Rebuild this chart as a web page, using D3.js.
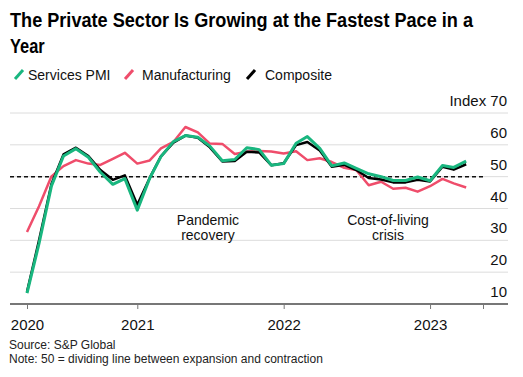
<!DOCTYPE html>
<html><head><meta charset="utf-8">
<script src="https://cdn.jsdelivr.net/npm/d3@7"></script>
<style>
body{margin:0;background:#fff;}
text{font-family:"Liberation Sans",Arial,sans-serif;}
</style></head>
<body><svg id="chart" width="523" height="377"></svg>
<script>
// ---- data (UK PMI, Apr 2020 – Apr 2023) ----
const startMonth = [2020, 3]; // April 2020 (month index 0-based)
const services = [13.4,29.0,47.1,56.5,58.8,56.1,51.4,47.6,49.4,
  39.5,49.5,56.3,61.0,62.9,62.4,59.6,55.0,55.4,59.1,58.5,53.6,
  54.1,60.5,62.6,58.9,53.4,54.3,52.6,50.9,50.0,48.8,48.8,49.9,
  48.7,53.5,52.9,54.9];
const manufacturing = [32.6,40.7,50.1,53.3,55.2,54.1,53.7,55.6,57.5,
  54.1,55.1,58.9,60.9,65.6,63.9,60.4,60.3,57.1,57.8,58.1,57.9,
  57.3,58.0,55.2,55.8,54.6,52.8,52.1,47.3,48.4,46.2,46.5,45.3,
  47.0,49.3,47.9,46.6];
const composite = [13.8,30.0,47.7,57.0,59.1,56.5,52.1,49.0,50.4,
  41.2,49.6,56.4,60.7,62.9,62.2,59.2,54.8,54.9,57.8,57.6,53.6,
  54.2,59.9,60.9,58.2,53.1,53.7,52.1,49.6,49.1,48.2,48.2,49.0,
  48.5,53.1,52.2,53.9];
const yTicks = [10,20,30,40,50,60,70];
const xTickDates = [[2020,3,1],[2021,0,1],[2022,0,1],[2023,0,1],[2023,4,13]];
const xTickLabels = ["2020","2021","2022","2023",""];
const seriesNames = ["Services PMI","Manufacturing","Composite"];

// ---- layout ----
const svg = d3.select("#chart");
const plotL = 10, plotR = 508, plotTop = 113, plotBottom = 304;
const colors = {"Services PMI":"#19b67f","Manufacturing":"#ef4d6b","Composite":"#000000"};

const dates = services.map((_, i) => new Date(startMonth[0], startMonth[1] + i, 1));
const x = d3.scaleTime()
  .domain([new Date(2020,3,1), new Date(2023,4,13)])
  .range([27, 483]);
const y = d3.scaleLinear().domain([10,70]).range([plotBottom, plotTop]);

// title
const t1 = svg.append("text").attr("x",10).attr("y",27)
  .style("font-weight","bold").style("font-size","20px").attr("fill","#000")
  .text("The Private Sector Is Growing at the Fastest Pace in a");
if (t1.node().getComputedTextLength() > 463) t1.attr("textLength",463).attr("lengthAdjust","spacingAndGlyphs");
const t2 = svg.append("text").attr("x",10).attr("y",53)
  .style("font-weight","bold").style("font-size","20px").attr("fill","#000").text("Year");
const tl2 = t2.node().getComputedTextLength();
t2.attr("textLength", tl2*0.82).attr("lengthAdjust","spacingAndGlyphs");

// legend
const legendX = [[15,28],[125,142],[247,265]];
seriesNames.forEach((n, i) => {
  const [sx, tx] = legendX[i];
  svg.append("line").attr("x1",sx).attr("y1",79).attr("x2",sx+8).attr("y2",70)
    .attr("stroke",colors[n]).attr("stroke-width",3);
  svg.append("text").attr("x",tx).attr("y",80).style("font-size","14px").attr("fill","#111").text(n);
});

// gridlines + y labels
yTicks.forEach(v => {
  if (v !== 10) svg.append("line").attr("x1",plotL).attr("x2",plotR)
    .attr("y1",y(v)).attr("y2",y(v)).attr("stroke","#dcdcdc").attr("stroke-width",1);
  svg.append("text").attr("x",507).attr("y",y(v)-7).attr("text-anchor","end")
    .style("font-size","15px").attr("fill","#111").text(v === 70 ? "Index 70" : v);
});

// x axis
const xAxis = d3.axisBottom(x)
  .tickValues(xTickDates.map(d => new Date(d[0], d[1], d[2])))
  .tickFormat((d, i) => xTickLabels[i])
  .tickSize(5).tickSizeOuter(0).tickPadding(10);
const gx = svg.append("g").attr("transform",`translate(0,${plotBottom})`).call(xAxis);
gx.select(".domain").remove();
gx.selectAll(".tick line").attr("stroke","#777").attr("stroke-width",1);
gx.selectAll(".tick text").style("font-size","15px").style("font-family","'Liberation Sans',Arial,sans-serif").attr("fill","#111");
svg.append("line").attr("x1",plotL).attr("x2",plotR).attr("y1",plotBottom).attr("y2",plotBottom)
  .attr("stroke","#777").attr("stroke-width",2);

// 50 line
svg.append("line").attr("x1",plotL).attr("x2",483).attr("y1",y(50)).attr("y2",y(50))
  .attr("stroke","#111").attr("stroke-width",1.5).attr("stroke-dasharray","4,3");

// annotations
const ann = [["Pandemic","recovery",208],["Cost-of-living","crisis",388]];
ann.forEach(a => {
  svg.append("text").attr("x",a[2]).attr("y",225).attr("text-anchor","middle").style("font-size","14px").attr("fill","#111").text(a[0]);
  svg.append("text").attr("x",a[2]).attr("y",240).attr("text-anchor","middle").style("font-size","14px").attr("fill","#111").text(a[1]);
});

// lines
const line = d3.line().x((d,i) => x(dates[i])).y(d => y(d)).curve(d3.curveLinear);
[["Manufacturing",manufacturing,2.5],["Composite",composite,2.5],["Services PMI",services,3]].forEach(s => {
  svg.append("path").datum(s[1]).attr("d",line).attr("fill","none")
    .attr("stroke",colors[s[0]]).attr("stroke-width",s[2]).attr("stroke-linejoin","round");
});

// source
svg.append("text").attr("x",9).attr("y",349).style("font-size","12px").attr("fill","#222").text("Source: S&P Global");
svg.append("text").attr("x",9).attr("y",363).style("font-size","12px").attr("fill","#222").text("Note: 50 = dividing line between expansion and contraction");
</script></body></html>
